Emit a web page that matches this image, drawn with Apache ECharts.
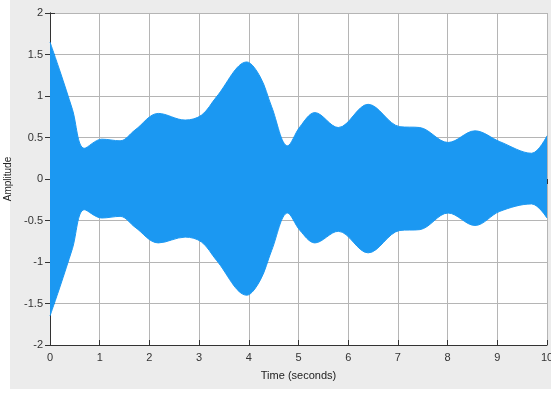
<!DOCTYPE html>
<html>
<head>
<meta charset="utf-8">
<script src="https://cdn.jsdelivr.net/npm/echarts@6/dist/echarts.min.js"></script>
<style>
  html, body { margin: 0; padding: 0; background: #ffffff; }
  #chart { width: 551px; height: 394px; }
</style>
</head>
<body>
<div id="chart"></div>
<script>
// Envelope of the oscillating signal: time samples with upper and lower bounds
const timeSec = [0, 0.2, 0.45, 0.69, 1.04, 1.41, 1.71, 2.18, 2.72, 3.05, 3.35, 3.96, 4.23, 4.46, 4.78, 5.03, 5.33, 5.80, 6.40, 7.04, 7.44, 8.01, 8.55, 9.05, 9.69, 10];
const upperEnv = [1.65, 1.30, 0.84, 0.37, 0.48, 0.46, 0.59, 0.79, 0.71, 0.77, 0.99, 1.41, 1.23, 0.87, 0.40, 0.63, 0.80, 0.62, 0.90, 0.63, 0.62, 0.44, 0.58, 0.45, 0.31, 0.52];
const lowerEnv = [-1.65, -1.30, -0.84, -0.37, -0.47, -0.45, -0.58, -0.77, -0.70, -0.76, -0.98, -1.40, -1.22, -0.86, -0.41, -0.62, -0.77, -0.63, -0.89, -0.62, -0.61, -0.41, -0.56, -0.39, -0.30, -0.47];
const yTicks = [-2, -1.5, -1, -0.5, 0, 0.5, 1, 1.5, 2];

const fillColor = '#1b98f2';
const font = 'Liberation Sans, Arial, sans-serif';

const chart = echarts.init(document.getElementById('chart'), null, { renderer: 'canvas' });

const toPairs = (vals) => timeSec.map((t, i) => [t, vals[i]]);

chart.setOption({
  animation: false,
  backgroundColor: 'transparent',
  graphic: [{
    type: 'rect', z: -10, silent: true,
    shape: { x: 10, y: 0, width: 541, height: 389 },
    style: { fill: '#ececec' }
  }],
  grid: {
    left: 50, right: 4, top: 13, bottom: 49,
    outerBoundsMode: 'none', containLabel: false,
    show: true, backgroundColor: '#ffffff', borderWidth: 0
  },
  xAxis: [{
    type: 'value', min: 0, max: 10, interval: 1,
    name: 'Time (seconds)', nameLocation: 'middle', nameGap: 25,
    nameTextStyle: { color: '#222', fontFamily: font, fontSize: 11 },
    axisLine: { show: true, onZero: false, lineStyle: { color: '#333', width: 1 } },
    axisTick: { show: true, inside: true, length: 5, lineStyle: { color: '#333' } },
    axisLabel: { color: '#333', fontFamily: font, fontSize: 11, margin: 7 },
    splitLine: { show: true, lineStyle: { color: '#b5b5b5', width: 1 } }
  }, {
    type: 'value', min: 0, max: 10, interval: 1, position: 'top',
    axisLine: { show: true, lineStyle: { color: '#333', width: 1 } },
    axisTick: { show: true, inside: true, length: 5, lineStyle: { color: '#333' } },
    axisLabel: { show: false }, splitLine: { show: false }
  }],
  yAxis: [{
    type: 'value', min: -2, max: 2, interval: 0.5,
    name: 'Amplitude', nameLocation: 'middle', nameGap: 33, nameRotate: 90,
    nameTextStyle: { color: '#222', fontFamily: font, fontSize: 10 },
    axisLine: { show: true, onZero: false, lineStyle: { color: '#333', width: 1 } },
    axisTick: { show: true, inside: true, length: 5, lineStyle: { color: '#333' } },
    axisLabel: {
      color: '#333', fontFamily: font, fontSize: 11, margin: 7,
      formatter: (v) => (yTicks.includes(v) ? String(v) : '')
    },
    splitLine: { show: true, lineStyle: { color: '#b5b5b5', width: 1 } }
  }, {
    type: 'value', min: -2, max: 2, interval: 0.5, position: 'right',
    axisLine: { show: true, lineStyle: { color: '#333', width: 1 } },
    axisTick: { show: true, inside: true, length: 5, lineStyle: { color: '#333' } },
    axisLabel: { show: false }, splitLine: { show: false }
  }],
  series: [{
    type: 'line', name: 'upper', data: toPairs(upperEnv),
    smooth: 0.35, symbol: 'none',
    lineStyle: { color: fillColor, width: 1 },
    areaStyle: { color: fillColor, opacity: 1 }
  }, {
    type: 'line', name: 'lower', data: toPairs(lowerEnv),
    smooth: 0.35, symbol: 'none',
    lineStyle: { color: fillColor, width: 1 },
    areaStyle: { color: fillColor, opacity: 1 }
  }]
});
</script>
</body>
</html>
